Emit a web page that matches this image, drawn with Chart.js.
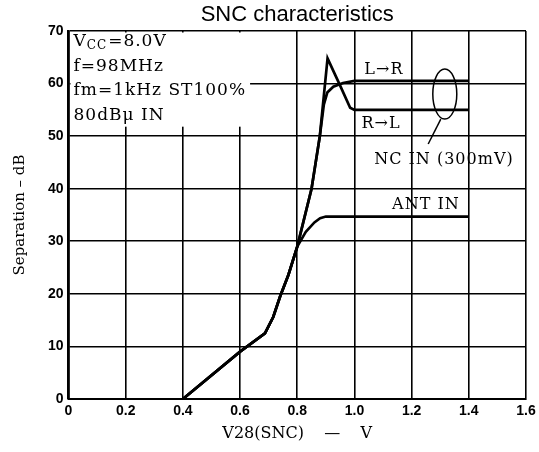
<!DOCTYPE html>
<html><head><meta charset="utf-8">
<script src="https://cdn.jsdelivr.net/npm/chart.js@4/dist/chart.umd.min.js"></script>
<style>html,body{margin:0;padding:0;background:#fff;overflow:hidden}</style>
</head><body>
<canvas id="c" width="539" height="452" style="display:block;width:539px;height:452px"></canvas>
<script>
// ---- data ----
const xTickLabels = ['0','0.2','0.4','0.6','0.8','1.0','1.2','1.4','1.6'];
const yTickLabels = ['0','10','20','30','40','50','60','70'];

const antX = [0.4, 0.6, 0.687, 0.716, 0.74, 0.769, 0.8, 0.83, 0.86, 0.88, 0.9, 1.0, 1.2, 1.4];
const antY = [0,   9,   12.5,  15.6,  19.5, 23.6,  29,  31.8, 33.6, 34.4, 34.7, 34.7, 34.7, 34.7];

const lrX = [0.4, 0.6, 0.687, 0.716, 0.74, 0.769, 0.8, 0.85, 0.879, 0.893, 0.905, 0.926, 0.96, 1.0, 1.2, 1.4];
const lrY = [0,   9,   12.5,  15.6,  19.5, 23.6,  29,  40,   50,    56,    58.3,  59.4,  60.1, 60.5, 60.5, 60.5];

const rlX = [0.4, 0.6, 0.687, 0.716, 0.74, 0.769, 0.8, 0.85, 0.879, 0.906, 0.95, 0.985, 1.0, 1.2, 1.4];
const rlY = [0,   9,   12.5,  15.6,  19.5, 23.6,  29,  40,   50,    64.8,  59.6, 55.4,  55,  55,  55];

const titleText = 'SNC characteristics';
const xTitle = 'V28(SNC)    \u2014    V';
const yTitle = 'Separation \u2013 dB';
const conditions = ['=8.0V', 'f=98MHz', 'fm=1kHz ST100%', '80dB\u03bc IN'];

const pts = (xs, ys) => xs.map((v, i) => ({x: v, y: ys[i]}));

const serif = '"DejaVu Serif", "Liberation Serif", serif';

const bgPlugin = {
  id: 'bg',
  beforeDraw(chart) {
    const ctx = chart.ctx;
    ctx.save(); ctx.fillStyle = '#fff'; ctx.fillRect(0, 0, chart.width, chart.height); ctx.restore();
  }
};

const notesPlugin = {
  id: 'notes',
  beforeDatasetsDraw(chart) {
    const {ctx, chartArea: a, scales: {x, y}} = chart;
    ctx.save();
    ctx.fillStyle = '#fff';
    const r = x.getPixelForValue(0.635), b = y.getPixelForValue(51.8);
    ctx.fillRect(a.left + 2, a.top + 1.5, r - a.left - 2, b - a.top - 1.5);
    ctx.restore();
  },
  afterDatasetsDraw(chart) {
    const {ctx, chartArea: a, scales: {x, y}} = chart;
    ctx.save();
    ctx.fillStyle = '#000';
    ctx.strokeStyle = '#000';
    // chart title, centred over the plot area
    ctx.textBaseline = 'middle';
    ctx.textAlign = 'center';
    ctx.font = '22px "Liberation Sans", Arial, sans-serif';
    ctx.fillText(titleText, (a.left + a.right) / 2, 15);

    try { ctx.letterSpacing = '1px'; } catch (e) {}
    ctx.textAlign = 'left';
    const lx = a.left + 5;
    // conditions box
    ctx.font = '17px ' + serif;
    let yy = a.top + 11;
    ctx.fillText('V', lx, yy);
    let w = ctx.measureText('V').width;
    ctx.font = '12px ' + serif;
    ctx.fillText('CC', lx + w, yy + 4);
    let w2 = ctx.measureText('CC').width;
    ctx.font = '17px ' + serif;
    ctx.fillText(conditions[0], lx + w + w2 + 1, yy);
    ctx.fillText(conditions[1], lx, yy + 25);
    ctx.fillText(conditions[2], lx, yy + 49);
    ctx.fillText(conditions[3], lx, yy + 74);

    // curve labels
    ctx.font = '16px ' + serif;
    ctx.textAlign = 'center';
    ctx.fillText('L\u2192R', x.getPixelForValue(1.103), y.getPixelForValue(62.6));
    ctx.fillText('R\u2192L', x.getPixelForValue(1.093), y.getPixelForValue(52.3));
    ctx.fillText('NC IN (300mV)', x.getPixelForValue(1.313), y.getPixelForValue(45.4));
    ctx.fillText('ANT IN', x.getPixelForValue(1.25), y.getPixelForValue(36.9));

    // bracket ellipse + leader
    const cx = x.getPixelForValue(1.316), cy = y.getPixelForValue(58.0);
    ctx.lineWidth = 1.5;
    ctx.beginPath();
    ctx.ellipse(cx, cy, 12, 25, 0, 0, Math.PI * 2);
    ctx.stroke();
    ctx.beginPath();
    ctx.moveTo(cx - 4, cy + 25);
    ctx.lineTo(x.getPixelForValue(1.258), y.getPixelForValue(48.5));
    ctx.stroke();
    ctx.restore();
  }
};

new Chart(document.getElementById('c'), {
  type: 'line',
  data: {
    datasets: [
      {label: 'L\u2192R', data: pts(lrX, lrY), borderColor: '#000', borderWidth: 2.7, pointRadius: 0, tension: 0, fill: false},
      {label: 'R\u2192L', data: pts(rlX, rlY), borderColor: '#000', borderWidth: 2.7, pointRadius: 0, tension: 0, fill: false},
      {label: 'ANT IN', data: pts(antX, antY), borderColor: '#000', borderWidth: 2.6, pointRadius: 0, tension: 0, fill: false}
    ]
  },
  options: {
    responsive: false,
    animation: false,
    events: [],
    layout: {padding: {left: 0, right: 13, top: 31, bottom: 0}},
    plugins: {
      legend: {display: false},
      tooltip: {enabled: false},
      title: {display: false}
    },
    scales: {
      x: {
        type: 'linear', min: 0, max: 1.6,
        afterFit(s) { s.height = 53; s.paddingLeft = 0; s.paddingRight = 0; },
        ticks: {stepSize: 0.2, color: '#000', padding: 4, maxRotation: 0,
          font: {family: '"Liberation Sans", Arial, sans-serif', size: 14, weight: 'bold'},
          callback: (v, i) => xTickLabels[i]},
        grid: {color: '#000', lineWidth: 1.6, drawTicks: false},
        border: {display: true, color: '#000', width: 2},
        title: {display: true, text: xTitle, color: '#000', padding: {top: 0, bottom: 9},
          font: {family: serif, size: 16}}
      },
      y: {
        min: 0, max: 70,
        afterFit(s) { s.width = 68.5; s.paddingTop = 0; s.paddingBottom = 0; },
        ticks: {stepSize: 10, color: '#000', padding: 5,
          font: {family: '"Liberation Sans", Arial, sans-serif', size: 14, weight: 'bold'},
          callback: (v, i) => yTickLabels[i]},
        grid: {color: '#000', lineWidth: 1.6, drawTicks: false},
        border: {display: true, color: '#000', width: 2.6},
        title: {display: true, text: yTitle, color: '#000', padding: {top: 11, bottom: 0},
          font: {family: serif, size: 15}}
      }
    }
  },
  plugins: [bgPlugin, notesPlugin]
});
</script>
</body></html>
